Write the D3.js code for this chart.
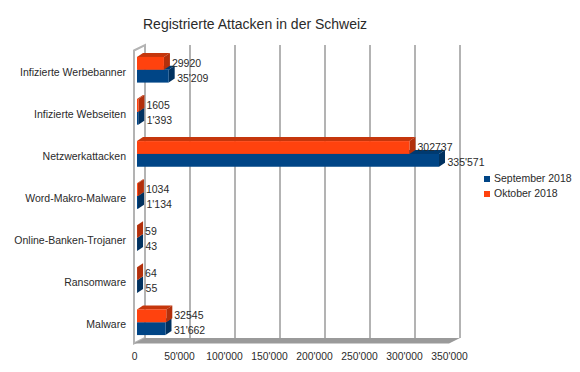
<!DOCTYPE html>
<html>
<head>
<meta charset="utf-8">
<script src="https://cdn.jsdelivr.net/npm/d3@7"></script>
<style>
body { margin: 0; background: #fff; }
text { font-family: "Liberation Sans", sans-serif; fill: #2a2a2a; }
</style>
</head>
<body>
<svg id="chart" width="580" height="372"></svg>
<script>
var categories = ['Infizierte Werbebanner', 'Infizierte Webseiten', 'Netzwerkattacken', 'Word-Makro-Malware', 'Online-Banken-Trojaner', 'Ransomware', 'Malware'];
var september = [35209, 1393, 335571, 1134, 43, 55, 31662];
var oktober = [29920, 1605, 302737, 1034, 59, 64, 32545];
var ticks = [0, 50000, 100000, 150000, 200000, 250000, 300000, 350000];
var seriesNames = ['September 2018', 'Oktober 2018'];

var depthX = 6, depthY = 4;
var wallX = 11, wallY = 5.5;
var frontLeft = 134, frontRight = 449;
var frontBottom = 343.5, backTop = 45;
var barInset = 3;

var blue = {front:'#004586', side:'#00315f', top:'#003a70'};
var orange = {front:'#ff420e', side:'#b2300c', top:'#c5360c'};

var swiss = d3.formatLocale({decimal:'.', thousands:"'", grouping:[3], currency:['','']}).format(',d');

var svg = d3.select('#chart');
var x = d3.scaleLinear().domain([0, 350000]).range([frontLeft, frontRight]);
var y = d3.scaleBand().domain(categories).range([44.3, 347.7]).paddingInner(0.39).paddingOuter(0.3);
var inner = d3.scaleBand().domain(['oktober', 'september']).range([0, y.bandwidth()]);

// walls and floor
var backBottom = frontBottom - wallY;
svg.append('polygon')
    .attr('points', [[frontLeft,backTop+wallY],[frontLeft+wallX,backTop],[frontLeft+wallX,backBottom],[frontLeft,frontBottom]].join(' '))
    .attr('fill', '#fff').attr('stroke', '#b3b3b3').attr('stroke-width', 2);
svg.append('polygon')
    .attr('points', [[frontLeft,frontBottom],[frontLeft+wallX,backBottom],[frontRight+wallX,backBottom],[frontRight,frontBottom]].join(' '))
    .attr('fill', '#9a9a9a');

svg.selectAll('.grid')
    .data(ticks)
    .join('line')
    .attr('class', 'grid')
    .attr('x1', d => x(d) + wallX)
    .attr('x2', d => x(d) + wallX)
    .attr('y1', backTop)
    .attr('y2', backBottom)
    .attr('stroke', '#b3b3b3')
    .attr('stroke-width', 2);

// bars
function drawBars(values, key, col) {
    var g = svg.append('g').selectAll('g')
        .data(values.map((v, i) => ({v:v, cat:categories[i]})))
        .join('g');
    var x0 = x(0) + barInset;
    var right = d => x(d.v) + barInset;
    var top = d => y(d.cat) + inner(key);
    var bottom = d => top(d) + inner.bandwidth();
    g.append('polygon')
        .attr('fill', col.top)
        .attr('points', d => [[x0,top(d)],[x0+depthX,top(d)-depthY],[right(d)+depthX,top(d)-depthY],[right(d),top(d)]].join(' '));
    g.append('polygon')
        .attr('fill', col.side)
        .attr('points', d => [[right(d),top(d)],[right(d)+depthX,top(d)-depthY],[right(d)+depthX,bottom(d)-depthY],[right(d),bottom(d)]].join(' '));
    g.append('rect')
        .attr('fill', col.front)
        .attr('x', x0)
        .attr('y', top)
        .attr('width', d => right(d) - x0)
        .attr('height', inner.bandwidth());
}
drawBars(september, 'september', blue);
drawBars(oktober, 'oktober', orange);

// data labels
svg.selectAll('.lab-okt')
    .data(oktober)
    .join('text')
    .attr('class', 'lab-okt')
    .attr('x', d => x(d) + 11)
    .attr('y', (d, i) => y(categories[i]) + inner('oktober') + inner.bandwidth() / 2)
    .attr('dy', '0.32em')
    .attr('font-size', 10.5)
    .text(d => d);
svg.selectAll('.lab-sep')
    .data(september)
    .join('text')
    .attr('class', 'lab-sep')
    .attr('x', d => x(d) + 11.5)
    .attr('y', (d, i) => y(categories[i]) + inner('september') + inner.bandwidth() / 2 + 2)
    .attr('dy', '0.32em')
    .attr('font-size', 10.5)
    .text(d => swiss(d));

// axes
var xAxis = d3.axisBottom(x).tickValues(ticks).tickSize(0).tickPadding(0).tickFormat(d => swiss(d));
svg.append('g')
    .attr('transform', 'translate(0,353)')
    .call(xAxis)
    .call(g => g.select('.domain').remove())
    .selectAll('text')
    .attr('font-size', 10.3).style('font-family', '"Liberation Sans", sans-serif').style('fill', '#2a2a2a');

var yAxis = d3.axisLeft(y).tickSize(0).tickPadding(0);
svg.append('g')
    .attr('transform', 'translate(126,2.5)')
    .call(yAxis)
    .call(g => g.select('.domain').remove())
    .selectAll('text')
    .attr('font-size', 10.5).style('font-family', '"Liberation Sans", sans-serif').style('fill', '#2a2a2a');

// title
svg.append('text')
    .attr('x', 143).attr('y', 29)
    .attr('font-size', 14)
    .text('Registrierte Attacken in der Schweiz');

// legend
var legend = svg.selectAll('.legend')
    .data(seriesNames)
    .join('g')
    .attr('class', 'legend')
    .attr('transform', (d, i) => 'translate(484,' + (176 + i * 15) + ')');
legend.append('rect')
    .attr('width', 6).attr('height', 6)
    .attr('fill', (d, i) => i == 0 ? blue.front : orange.front);
legend.append('text')
    .attr('x', 10).attr('y', 3).attr('dy', '0.32em')
    .attr('font-size', 10.5)
    .text(d => d);
</script>
</body>
</html>
